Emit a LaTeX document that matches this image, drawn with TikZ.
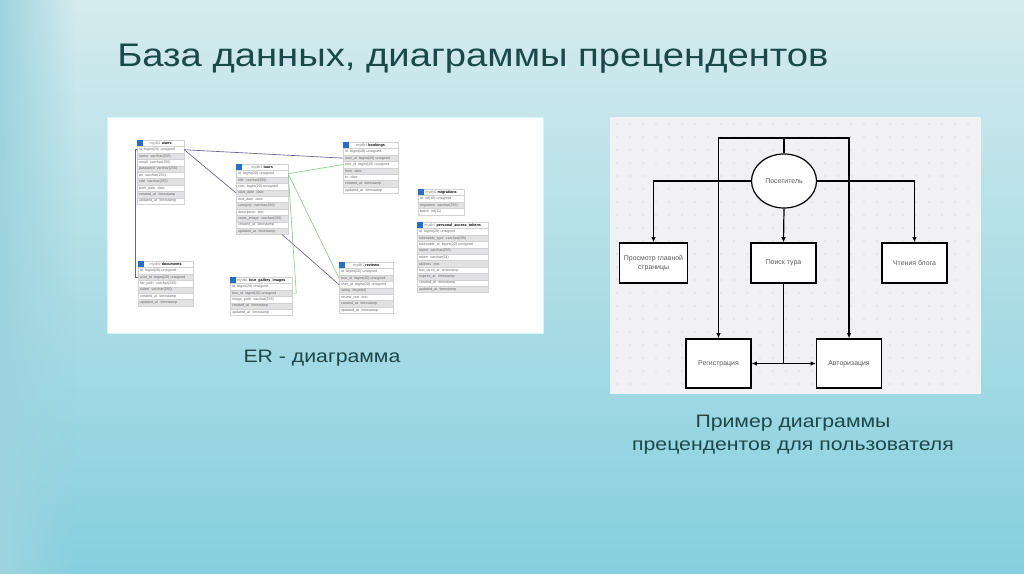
\documentclass[tikz,border=0pt]{standalone}
\usepackage{fontspec}
\setmainfont{Liberation Sans}
\usetikzlibrary{arrows.meta, positioning, calc, shapes.geometric, fadings}

\definecolor{titleteal}{RGB}{28,72,74}
\definecolor{bgtop}{RGB}{212,235,238}
\definecolor{bgbot}{RGB}{134,207,222}
\definecolor{leftstrip}{RGB}{158,212,223}
\definecolor{panelgray}{RGB}{241,241,243}
\definecolor{dotgray}{RGB}{200,200,205}
\definecolor{rowgray}{RGB}{226,226,228}
\definecolor{fkline}{RGB}{104,100,150}
\definecolor{relgreen}{RGB}{140,205,140}
\definecolor{iconblue}{RGB}{40,110,200}

\tikzfading[name=fadeleft, left color=transparent!0, right color=transparent!100]

% ER table: name, top-left corner, width (px), table title, rows text/fill
\newcommand{\ertable}[5]{%
  \node[erhead, minimum width={#3*0.75pt}, anchor=north west] (#1) at #2
    {\textcolor{gray}{mydb1}\ \textbf{#4}};
  \node[ericon, anchor=north west] at (#1.north west) {};
  \foreach \txt/\rowfill [count=\i] in {#5} {
    \node[errow, fill=\rowfill, text width={#3*0.75pt-3pt}, anchor=north west]
      (#1-\i) at ($(#1.north west)+(0,\i*6.4)$) {\mbox{\txt}};
  }
}

\begin{document}
\begin{tikzpicture}[
    x=0.75pt, y=-0.75pt,
    >={Latex[length=4pt, width=3.5pt]},
    titletext/.style={font=\fontsize{24.5}{28}\selectfont, text=titleteal, xscale=1.17, inner sep=0pt},
    captext/.style={font=\fontsize{13.5}{17.25}\selectfont, text=titleteal, xscale=1.18, align=center, inner sep=0pt},
    erhead/.style={draw=gray!35, line width=0.2pt, fill=white, minimum height=4.8pt,
        inner sep=0pt, font=\fontsize{2.8}{3.4}\selectfont},
    errow/.style={draw=gray!35, line width=0.2pt, minimum height=4.8pt, inner xsep=1.5pt,
        inner ysep=0pt, align=left, text=black!60, font=\fontsize{2.7}{3.3}\selectfont},
    ericon/.style={fill=iconblue, minimum width=4pt, minimum height=4.8pt, inner sep=0pt},
    fk/.style={fkline, line width=0.5pt},
    rel/.style={relgreen, line width=0.5pt},
    ucbox/.style={draw, line width=0.9pt, fill=white, minimum width=48.75pt,
        minimum height=30pt, align=center, text=black!65, font=\fontsize{5.2}{6.5}\selectfont},
    ucactor/.style={ellipse, draw, line width=0.9pt, fill=white, minimum width=48.75pt,
        minimum height=40.5pt, inner sep=0pt, text=black!65, font=\fontsize{5.2}{6.5}\selectfont},
    flow/.style={line width=0.9pt}
]
\useasboundingbox (0,0) rectangle (1024,574);

% ---------------- Background ----------------
\shade[top color=bgtop, bottom color=bgbot] (0,0) rectangle (1024,574);
\fill[leftstrip, path fading=fadeleft] (0,0) rectangle (75,574);

\fill[white, draw=cyan!15, line width=0.4pt] (107,117) rectangle (543,333);
\fill[panelgray] (610,117) rectangle (981,394);
\foreach \gx in {617,630,...,975}
  \foreach \gy in {124,137,...,390}
    \fill[dotgray] (\gx,\gy) circle (0.45pt);

% ---------------- Texts ----------------
\node[titletext, anchor=base west] (title) at (117,67) {База данных, диаграммы прецендентов};
\node[captext, anchor=base] (ercap) at (322,362) {ER - диаграмма};
\node[captext, anchor=base] (uccap) at (793,450) {Пример диаграммы\\прецендентов для пользователя};

% ---------------- ER diagram ----------------
\ertable{users}{(137,140)}{47}{users}{id\ \ bigint(20) unsigned/white,
  name\ \ varchar(255)/rowgray, email\ \ varchar(255)/white,
  password\ \ varchar(255)/rowgray, tel\ \ varchar(255)/white,
  role\ \ varchar(255)/rowgray, birth\_date\ \ date/white,
  created\_at\ \ timestamp/rowgray, updated\_at\ \ timestamp/white}

\ertable{tours}{(236,164)}{52}{tours}{id\ \ bigint(20) unsigned/white,
  title\ \ varchar(255)/rowgray, cost\ \ bigint(20) unsigned/white,
  start\_date\ \ date/rowgray, end\_date\ \ date/white,
  category\ \ varchar(255)/rowgray, description\ \ text/white,
  cover\_image\ \ varchar(255)/rowgray, created\_at\ \ timestamp/white,
  updated\_at\ \ timestamp/rowgray}

\ertable{bookings}{(343,142)}{55}{bookings}{id\ \ bigint(20) unsigned/white,
  user\_id\ \ bigint(20) unsigned/rowgray, tour\_id\ \ bigint(20) unsigned/white,
  from\ \ date/rowgray, to\ \ date/white,
  created\_at\ \ timestamp/rowgray, updated\_at\ \ timestamp/white}

\ertable{migrations}{(418,189)}{46}{migrations}{id\ \ int(10) unsigned/white,
  migration\ \ varchar(255)/rowgray, batch\ \ int(11)/white}

\ertable{tokens}{(417,222)}{71}{personal\_access\_tokens}{id\ \ bigint(20) unsigned/white,
  tokenable\_type\ \ varchar(255)/rowgray, tokenable\_id\ \ bigint(20) unsigned/white,
  name\ \ varchar(255)/rowgray, token\ \ varchar(64)/white,
  abilities\ \ text/rowgray, last\_used\_at\ \ timestamp/white,
  expires\_at\ \ timestamp/rowgray, created\_at\ \ timestamp/white,
  updated\_at\ \ timestamp/rowgray}

\ertable{documents}{(138,261)}{55}{documents}{id\ \ bigint(20) unsigned/white,
  user\_id\ \ bigint(20) unsigned/rowgray, file\_path\ \ varchar(255)/white,
  name\ \ varchar(255)/rowgray, created\_at\ \ timestamp/white,
  updated\_at\ \ timestamp/rowgray}

\ertable{gallery}{(230,277)}{62}{tour\_gallery\_images}{id\ \ bigint(20) unsigned/white,
  tour\_id\ \ bigint(20) unsigned/rowgray, image\_path\ \ varchar(255)/white,
  created\_at\ \ timestamp/rowgray, updated\_at\ \ timestamp/white}

\ertable{reviews}{(339,262)}{54}{reviews}{id\ \ bigint(20) unsigned/white,
  tour\_id\ \ bigint(20) unsigned/rowgray, user\_id\ \ bigint(20) unsigned/white,
  rating\ \ tinyint(4)/rowgray, review\_text\ \ text/white,
  created\_at\ \ timestamp/rowgray, updated\_at\ \ timestamp/white}

% relations
\draw[fk] (users-1.east) -- (bookings-2.west);
\draw[fk] (users-1.east) -- (tours-4.west);
\draw[fk] (users-1.west) -- ++(-2,0) |- (documents-2.west);
\draw[fk] ([xshift=-4.5pt]tours-10.south east) -- (reviews-3.west);
\draw[rel] (tours-1.east) -- (bookings-3.west);
\draw[rel] (tours-1.east) -- (reviews-2.west);
\draw[rel] (tours-1.east) -- ([xshift=3pt]gallery-2.east) -- (gallery-2.east);

% ---------------- Use case diagram ----------------
\node[ucactor] (visitor) at (784,181) {Посетитель};
\node[ucbox] (mainpage) at (653.5,263) {Просмотр главной\\страницы};
\node[ucbox] (search)   at (783.5,263) {Поиск тура};
\node[ucbox] (blog)     at (914.5,263) {Чтения блога};
\node[ucbox, minimum height=36.75pt] (signup) at (718.5,363.5) {Регистрация};
\node[ucbox, minimum height=36.75pt] (login)  at (849,363.5) {Авторизация};
\coordinate (vtop) at (784,138);

\draw[flow] (visitor.north) -- (vtop);
\draw[flow, ->] (vtop) -| (signup.north);
\draw[flow, ->] (vtop) -| (login.north);
\draw[flow, ->] (visitor.west) -| (mainpage.north);
\draw[flow, ->] (visitor.east) -| (blog.north);
\draw[flow, ->] (visitor.south) -- (search.north);
\draw[flow, ->] (search.south) |- (signup.east);
\draw[flow, ->] (search.south) |- (login.west);

\end{tikzpicture}
\end{document}
